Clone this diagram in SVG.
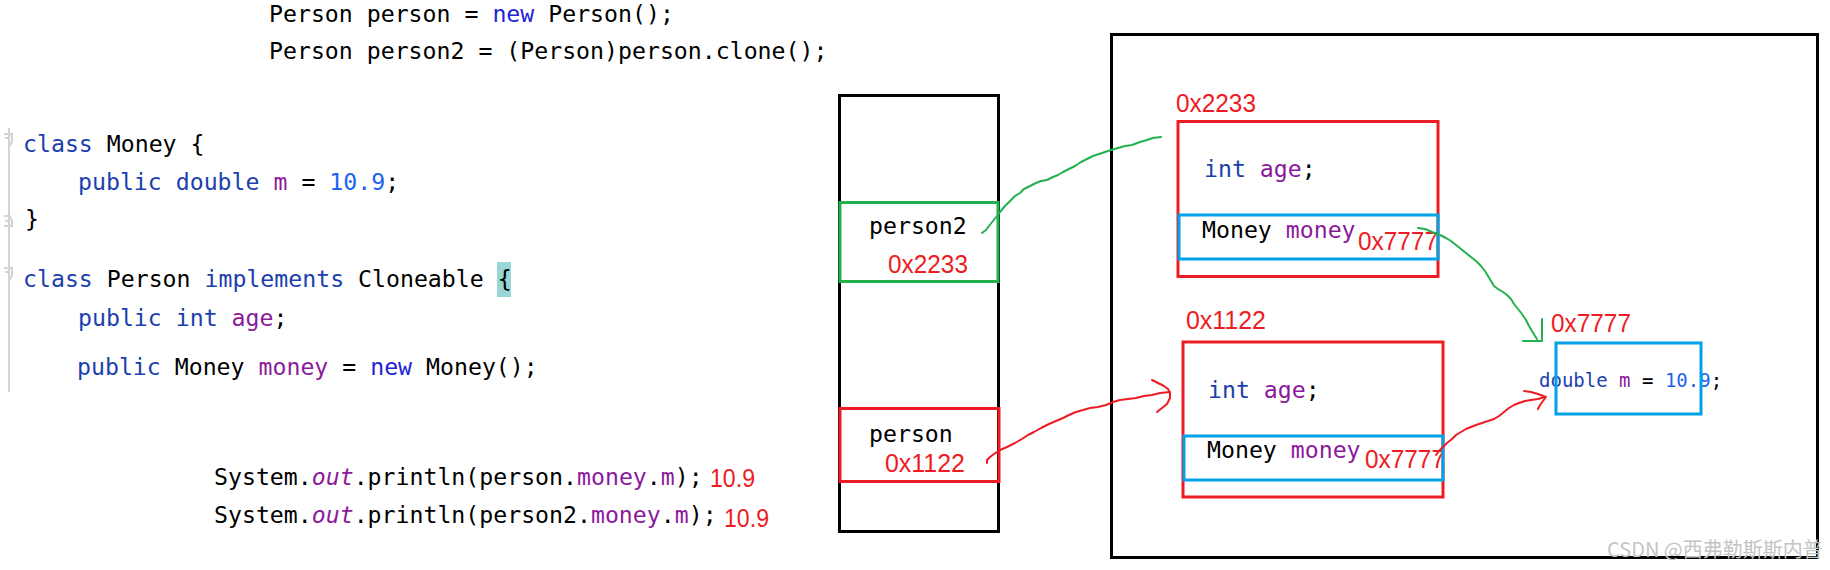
<svg xmlns="http://www.w3.org/2000/svg" width="1830" height="570" viewBox="0 0 1830 570">
<style>
.code{font-family:"DejaVu Sans Mono","Liberation Mono",monospace;font-size:23.2px;fill:#000;}
.small{font-size:19px;}
.kw{fill:#1b3fae;}
.nw{fill:#2424d6;}
.num{fill:#2062f0;}
.fld{fill:#8b1a9b;}
.it{font-style:italic;}
.addr{font-family:"Liberation Sans",Arial,sans-serif;font-size:26px;fill:#ed1c24;}
.blk{fill:none;stroke:#000;stroke-width:3;}
.red{fill:none;stroke:#ed1c24;stroke-width:3;}
.blue{fill:none;stroke:#00a2e8;stroke-width:3;}
.green{fill:none;stroke:#22b14c;stroke-width:3;}
.hg{fill:none;stroke:#22b14c;stroke-width:2;stroke-linejoin:round;stroke-linecap:round;}
.hr{fill:none;stroke:#ed1c24;stroke-width:2;stroke-linejoin:round;stroke-linecap:round;}
.gut{fill:none;stroke:#d4d4d4;stroke-width:2;}
</style>
<rect width="1830" height="570" fill="#fff"/>

<g id="code">
  <text class="code" x="269" y="22">Person person = <tspan class="nw">new</tspan> Person();</text>
  <text class="code" x="269" y="59">Person person2 = (Person)person.clone();</text>

  <path class="gut" d="M9 128 V392"/>
  <path class="gut" d="M4 134 H12 V142 L9 147 M5 138 H10"/>
  <path class="gut" d="M4 216 H10 L12 221 V226 H4 M5 221 H10"/>
  <path class="gut" d="M4 268 H12 V276 L9 281 M5 272 H10"/>

  <text class="code" x="23" y="152"><tspan class="kw">class</tspan> Money {</text>
  <text class="code" x="78" y="190"><tspan class="kw">public double</tspan> <tspan class="fld">m</tspan> = <tspan class="num">10.9</tspan>;</text>
  <text class="code" x="25" y="227">}</text>

  <rect x="497" y="262" width="14" height="35" fill="#96d7d5"/>
  <text class="code" x="23" y="287"><tspan class="kw">class</tspan> Person <tspan class="kw">implements</tspan> Cloneable {</text>
  <text class="code" x="78" y="326"><tspan class="kw">public int</tspan> <tspan class="fld">age</tspan>;</text>
  <text class="code" x="77" y="375"><tspan class="kw">public</tspan> Money <tspan class="fld">money</tspan> = <tspan class="nw">new</tspan> Money();</text>

  <text class="code" x="214" y="485">System.<tspan class="fld it">out</tspan>.println(person.<tspan class="fld">money</tspan>.<tspan class="fld">m</tspan>);</text>
  <text class="addr" x="710" y="487" textLength="45" lengthAdjust="spacingAndGlyphs">10.9</text>
  <text class="code" x="214" y="523">System.<tspan class="fld it">out</tspan>.println(person2.<tspan class="fld">money</tspan>.<tspan class="fld">m</tspan>);</text>
  <text class="addr" x="724" y="527" textLength="45" lengthAdjust="spacingAndGlyphs">10.9</text>
</g>

<g id="stack">
  <rect class="blk" x="839.5" y="95.5" width="159" height="436"/>
</g>
<g id="stack-person2">
  <rect class="green" x="840" y="202.5" width="158" height="79"/>
  <text class="code" x="869" y="234">person2</text>
  <text class="addr" x="888" y="273" textLength="80" lengthAdjust="spacingAndGlyphs">0x2233</text>
</g>
<g id="stack-person">
  <rect class="red" x="840" y="408.5" width="159" height="73"/>
  <text class="code" x="869" y="442">person</text>
  <text class="addr" x="885" y="472" textLength="80" lengthAdjust="spacingAndGlyphs">0x1122</text>
</g>

<g id="heap">
  <rect class="blk" x="1111.5" y="34.5" width="706" height="523"/>
</g>

<g id="obj-0x2233">
  <text class="addr" x="1176" y="112" textLength="80" lengthAdjust="spacingAndGlyphs">0x2233</text>
  <rect class="red" x="1178" y="121.5" width="260" height="155"/>
  <text class="code" x="1204" y="177"><tspan class="kw">int</tspan> <tspan class="fld">age</tspan>;</text>
  <text class="code" x="1202" y="238">Money <tspan class="fld">money</tspan></text>
  <text class="addr" x="1358" y="250" textLength="80" lengthAdjust="spacingAndGlyphs">0x7777</text>
  <rect class="blue" x="1179" y="215" width="259" height="44"/>
</g>

<g id="obj-0x1122">
  <text class="addr" x="1186" y="329" textLength="80" lengthAdjust="spacingAndGlyphs">0x1122</text>
  <rect class="red" x="1183" y="342" width="260" height="155"/>
  <text class="code" x="1208" y="398"><tspan class="kw">int</tspan> <tspan class="fld">age</tspan>;</text>
  <text class="code" x="1207" y="458">Money <tspan class="fld">money</tspan></text>
  <text class="addr" x="1365" y="468" textLength="80" lengthAdjust="spacingAndGlyphs">0x7777</text>
  <rect class="blue" x="1184" y="436" width="259" height="44"/>
</g>

<g id="obj-money">
  <text class="addr" x="1551" y="332" textLength="80" lengthAdjust="spacingAndGlyphs">0x7777</text>
  <text class="code small" x="1539" y="387"><tspan class="kw">double</tspan> <tspan class="fld">m</tspan> = <tspan class="num">10.9</tspan>;</text>
  <rect class="blue" x="1556" y="343" width="145" height="71"/>
</g>

<g id="connectors">
  <path class="hg" d="M982 233 L986 230 L989 226 L993 221 L997 216 L1000 212 L1005 206 L1009 202 L1015 196 L1020 193 L1024 189 L1030 186 L1036 183 L1041 181 L1047 180 L1053 177 L1058 175 L1063 172 L1069 169 L1075 166 L1081 162 L1087 159 L1093 156 L1099 154 L1105 152 L1111 150 L1118 148 L1125 146 L1132 145 L1140 142 L1147 140 L1153 138 L1161 137"/>
  <path class="hr" d="M987 463 L987 460 L990 457 L994 454 L1000 450 L1007 447 L1015 443 L1022 439 L1028 435 L1034 432 L1041 428 L1049 424 L1056 421 L1063 418 L1069 415 L1076 412 L1083 410 L1090 408 L1098 407 L1106 405 L1113 402 L1120 400 L1128 399 L1136 398 L1144 396 L1152 395 L1160 393 L1170 392"/>
  <path class="hr" d="M1152 380 L1158 383 L1164 386 L1168 389 L1170 393 L1170 398 L1167 404 L1162 408 L1157 412"/>
  <path class="hg" d="M1418 228 L1425 229 L1432 232 L1440 235 L1446 238 L1451 241 L1456 245 L1461 249 L1466 253 L1471 257 L1476 261 L1481 266 L1485 271 L1488 276 L1491 281 L1494 286 L1498 289 L1503 292 L1507 295 L1511 299 L1514 304 L1518 309 L1522 314 L1526 320 L1529 326 L1532 331 L1535 336 L1537 339"/>
  <path class="hg" d="M1542 319 L1542 341 L1523 341"/>
  <path class="hr" d="M1436 455 L1439 451 L1443 447 L1447 443 L1452 439 L1456 435 L1461 432 L1466 429 L1471 427 L1476 425 L1482 423 L1488 421 L1494 419 L1499 416 L1504 412 L1509 408 L1514 405 L1519 403 L1525 401 L1531 400 L1538 399 L1545 397"/>
  <path class="hr" d="M1524 391 L1531 392 L1538 394 L1546 397 L1543 401 L1540 405 L1538 409"/>
</g>

<text x="1607" y="557" font-family="'Noto Sans CJK SC','Noto Sans',sans-serif" font-size="20" fill="#c4c4c4">CSDN @西弗勒斯斯内普</text>
</svg>
